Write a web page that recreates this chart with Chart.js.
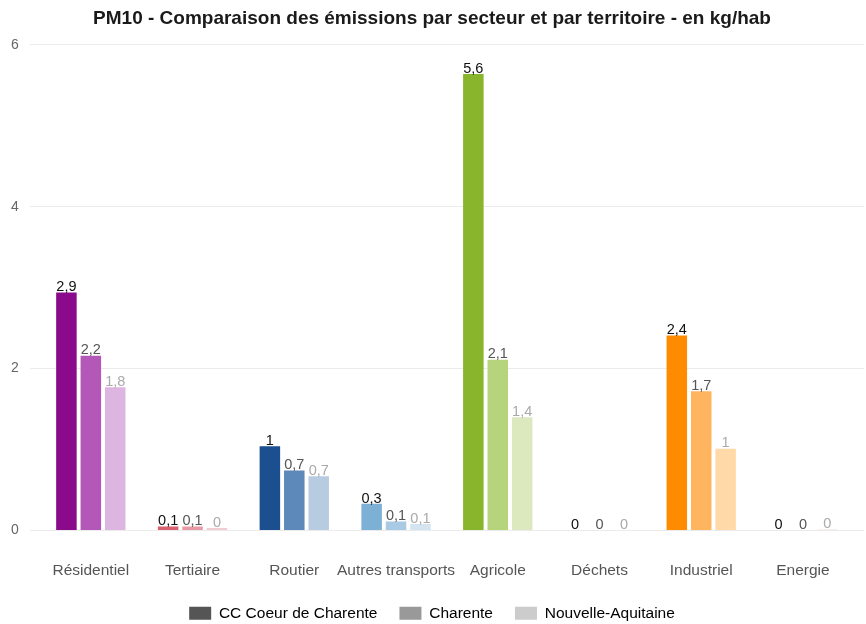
<!DOCTYPE html>
<html>
<head>
<meta charset="utf-8">
<script src="https://cdn.jsdelivr.net/npm/chart.js@4.4.1/dist/chart.umd.min.js"></script>
<style>
  html, body { margin: 0; padding: 0; background: #fff; }
  #wrap { width: 866px; height: 624px; }
</style>
</head>
<body>
<div id="wrap"><canvas id="c" width="866" height="624"></canvas></div>
<script>
const categories = ["Résidentiel", "Tertiaire", "Routier", "Autres transports", "Agricole", "Déchets", "Industriel", "Energie"];
const seriesNames = ["CC Coeur de Charente", "Charente", "Nouvelle-Aquitaine"];
const ccCoeur = [2.94, 0.05, 1.04, 0.33, 5.64, 0.0, 2.41, 0.0];
const charente = [2.16, 0.05, 0.74, 0.11, 2.11, 0.0, 1.72, 0.0];
const nouvelleAquitaine = [1.77, 0.03, 0.67, 0.08, 1.40, 0.0, 1.01, 0.01];
const yTicks = [0, 2, 4, 6];

const palette = [
  ["#8b0a8b", "#b358b8", "#dcb6e0"],
  ["#d9606e", "#e89aa4", "#f3ccd2"],
  ["#1b4f8f", "#5d88ba", "#b8cce1"],
  ["#7cb0d5", "#a9cae4", "#d4e4f1"],
  ["#88b52b", "#b6d47b", "#dce9be"],
  ["#888888", "#aaaaaa", "#cccccc"],
  ["#ff8c00", "#ffb45f", "#ffdaa8"],
  ["#d7191c", "#e8777a", "#f3b7b8"]
];
const labelColors = ["#111111", "#555555", "#aaaaaa"];
const legendColors = ["#555555", "#999999", "#cccccc"];

const allSeries = [ccCoeur, charente, nouvelleAquitaine];
const FONT = '"Liberation Sans", Arial, sans-serif';

const datasets = allSeries.map((vals, s) => ({
  label: seriesNames[s],
  data: vals.map((v, i) => ({ x: i + 1, y: v })),
  backgroundColor: categories.map((_, i) => palette[i][s]),
  borderWidth: 0,
  categoryPercentage: 0.72,
  barPercentage: 0.84
}));

function fmt(v) {
  return String(Math.round(v * 10) / 10).replace('.', ',');
}

const valueLabels = {
  id: 'valueLabels',
  afterDatasetsDraw(chart) {
    const ctx = chart.ctx;
    ctx.save();
    ctx.font = '14.5px ' + FONT;
    ctx.textAlign = 'center';
    ctx.textBaseline = 'bottom';
    chart.data.datasets.forEach((ds, s) => {
      const meta = chart.getDatasetMeta(s);
      meta.data.forEach((bar, i) => {
        ctx.fillStyle = labelColors[s];
        ctx.fillText(fmt(allSeries[s][i]), bar.x, bar.y + 2);
      });
    });
    ctx.restore();
  }
};

new Chart(document.getElementById('c'), {
  type: 'bar',
  data: { datasets },
  options: {
    responsive: false,
    animation: false,
    layout: { padding: { left: 0, right: 2, top: 0, bottom: -7 } },
    plugins: {
      title: {
        display: true,
        text: 'PM10 - Comparaison des émissions par secteur et par territoire - en kg/hab',
        font: { family: FONT, size: 19, weight: 'bold' },
        color: '#1a1a1a',
        padding: { top: 7, bottom: 15 }
      },
      legend: {
        position: 'bottom',
        labels: {
          font: { family: FONT, size: 15.5 },
          color: '#333333',
          boxWidth: 22,
          boxHeight: 13,
          padding: 22,
          generateLabels: () => seriesNames.map((n, s) => ({
            text: n,
            fillStyle: legendColors[s],
            strokeStyle: legendColors[s],
            lineWidth: 0,
            datasetIndex: s
          }))
        },
        onClick: null
      },
      tooltip: { enabled: false }
    },
    scales: {
      x: {
        type: 'linear',
        offset: false,
        min: 0.4,
        max: categories.length + 0.6,
        grid: { display: false },
        border: { display: false },
        afterBuildTicks: (scale) => {
          scale.ticks = categories.map((_, i) => ({ value: i + 1 }));
        },
        afterFit: (scale) => { scale.height = 53; },
        ticks: {
          autoSkip: false,
          maxRotation: 0,
          padding: 23,
          color: '#555555',
          font: { family: FONT, size: 15.5 },
          callback: (v) => categories[Math.round(v) - 1] || ''
        }
      },
      y: {
        min: 0,
        max: 6,
        afterBuildTicks: (scale) => {
          scale.ticks = yTicks.map(v => ({ value: v }));
        },
        grid: { color: '#ebebeb', lineWidth: 1, drawTicks: false },
        border: { display: false },
        ticks: {
          padding: 11,
          color: '#666666',
          font: { family: FONT, size: 14 }
        }
      }
    }
  },
  plugins: [valueLabels]
});
</script>
</body>
</html>
